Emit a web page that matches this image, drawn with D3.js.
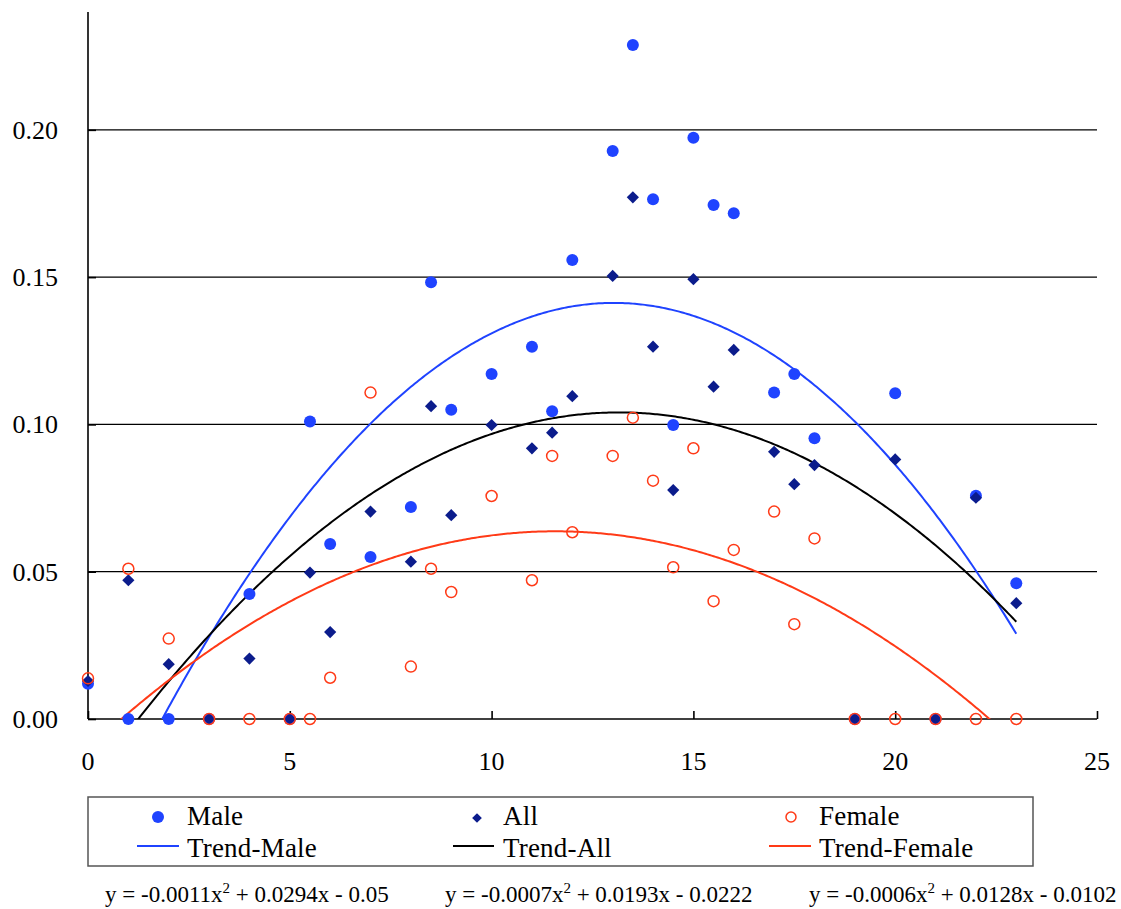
<!DOCTYPE html>
<html>
<head>
<meta charset="utf-8">
<script src="https://cdn.jsdelivr.net/npm/d3@7.9.0/dist/d3.min.js"></script>
<style>
  body { margin: 0; background: #fff; }
  svg text { font-family: "Liberation Serif", "Times New Roman", serif; fill: #000; }
</style>
</head>
<body>
<svg id="chart" width="1121" height="909"></svg>
<script>
// x positions shared by all three series
let xs = [0, 1, 2, 3, 4, 5, 5.5, 6, 7, 8, 8.5, 9, 10, 11, 11.5, 12, 13, 13.5, 14, 14.5, 15, 15.5, 16, 17, 17.5, 18, 19, 20, 21, 22, 23];

let male = [0.012, 0, 0, 0, 0.0424, 0, 0.101, 0.0594, 0.055, 0.072, 0.1483, 0.105, 0.1171, 0.1264, 0.1045, 0.1558, 0.1928, 0.2288, 0.1764, 0.0998, 0.1973, 0.1745, 0.1717, 0.1108, 0.1171, 0.0953, 0, 0.1106, 0, 0.0758, 0.0461];
let all = [0.0129, 0.0471, 0.0186, 0, 0.0205, 0, 0.0497, 0.0295, 0.0704, 0.0534, 0.1062, 0.0692, 0.0998, 0.0919, 0.0972, 0.1096, 0.1504, 0.1771, 0.1264, 0.0777, 0.1493, 0.1128, 0.1253, 0.0907, 0.0797, 0.0862, 0, 0.0881, 0, 0.0751, 0.0393];
let female = [0.0138, 0.051, 0.0273, 0, 0, 0, 0, 0.014, 0.1108, 0.0178, 0.051, 0.0431, 0.0757, 0.0471, 0.0893, 0.0634, 0.0893, 0.1023, 0.0809, 0.0515, 0.0919, 0.04, 0.0574, 0.0704, 0.0322, 0.0613, 0, 0, 0, 0, 0];

let xTicks = [0, 5, 10, 15, 20, 25];
let yTicks = [0, 0.05, 0.1, 0.15, 0.2];
let legendLabels = ['Male', 'All', 'Female'];
let trendLabels = ['Trend-Male', 'Trend-All', 'Trend-Female'];
let equations = [
    ['y = -0.0011x', ' + 0.0294x - 0.05'],
    ['y = -0.0007x', ' + 0.0193x - 0.0222'],
    ['y = -0.0006x', ' + 0.0128x - 0.0102']
];

let maleColor = '#1f43ff';
let allColor = '#0b1c8c';
let femaleColor = '#ff3a17';

let svg = d3.select('#chart');
let x = d3.scaleLinear().domain([0, 25]).range([88, 1097]);
let y = d3.scaleLinear().domain([0, 0.24]).range([719, 12]);

// gridlines
svg.append('g')
    .selectAll('line')
    .data(yTicks.slice(1))
    .join('line')
    .attr('x1', x(0)).attr('x2', x(25))
    .attr('y1', d => y(d)).attr('y2', d => y(d))
    .attr('stroke', '#000').attr('stroke-width', 1.2);

// axes
let yAxis = svg.append('g')
    .attr('transform', `translate(${x(0)},0)`)
    .call(d3.axisRight(y).tickValues(yTicks).tickSize(8).tickFormat(''));
yAxis.select('.domain').attr('d', `M0,${y(0.24)}V${y(0)}`).attr('stroke-width', 1.6);
yAxis.selectAll('.tick line').attr('stroke-width', 1.6);

let xAxis = svg.append('g')
    .attr('transform', `translate(0,${y(0)})`)
    .call(d3.axisTop(x).tickValues(xTicks).tickSize(8).tickFormat(''));
xAxis.select('.domain').attr('d', `M${x(0)},0H${x(25)}`).attr('stroke-width', 1.6);
xAxis.selectAll('.tick line').attr('stroke-width', 1.6);

svg.append('g')
    .selectAll('text')
    .data(yTicks)
    .join('text')
    .attr('x', 58)
    .attr('y', d => y(d) + 9)
    .attr('text-anchor', 'end')
    .attr('font-size', 26)
    .text(d => d3.format('.2f')(d));

svg.append('g')
    .selectAll('text')
    .data(xTicks)
    .join('text')
    .attr('x', d => x(d))
    .attr('y', 770)
    .attr('text-anchor', 'middle')
    .attr('font-size', 26)
    .text(d => d);

// least squares quadratic, like the spreadsheet trendline
function quadFit(xv, yv) {
    let s = [0, 0, 0, 0, 0], t = [0, 0, 0];
    xv.forEach((xi, i) => {
        for (let k = 0; k < 5; k++) s[k] += Math.pow(xi, k);
        for (let k = 0; k < 3; k++) t[k] += yv[i] * Math.pow(xi, k);
    });
    let m = [[s[0], s[1], s[2], t[0]], [s[1], s[2], s[3], t[1]], [s[2], s[3], s[4], t[2]]];
    for (let i = 0; i < 3; i++) {
        for (let j = i + 1; j < 3; j++) {
            let f = m[j][i] / m[i][i];
            for (let k = i; k < 4; k++) m[j][k] -= f * m[i][k];
        }
    }
    let c = [0, 0, 0];
    for (let i = 2; i >= 0; i--) {
        let v = m[i][3];
        for (let k = i + 1; k < 3; k++) v -= m[i][k] * c[k];
        c[i] = v / m[i][i];
    }
    return c;
}

svg.append('clipPath').attr('id', 'plotClip')
    .append('rect')
    .attr('x', x(0)).attr('y', y(0.24))
    .attr('width', x(25) - x(0)).attr('height', y(0) - y(0.24));

let line = d3.line().x(d => x(d[0])).y(d => y(d[1]));
let trendGroup = svg.append('g').attr('clip-path', 'url(#plotClip)');
[[male, maleColor], [all, '#000'], [female, femaleColor]].forEach(([vals, color]) => {
    let c = quadFit(xs, vals);
    let pts = d3.range(0, 23.001, 0.05).map(v => [v, c[0] + c[1] * v + c[2] * v * v]);
    trendGroup.append('path')
        .attr('d', line(pts))
        .attr('fill', 'none')
        .attr('stroke', color)
        .attr('stroke-width', 2);
});

// markers
svg.append('g')
    .selectAll('circle')
    .data(xs.map((v, i) => [v, male[i]]))
    .join('circle')
    .attr('cx', d => x(d[0])).attr('cy', d => y(d[1]))
    .attr('r', 6)
    .attr('fill', maleColor);

let diamond = d3.symbol().type(d3.symbolDiamond2).size(95);
svg.append('g')
    .selectAll('path')
    .data(xs.map((v, i) => [v, all[i]]))
    .join('path')
    .attr('transform', d => `translate(${x(d[0])},${y(d[1])})`)
    .attr('d', diamond())
    .attr('fill', allColor);

svg.append('g')
    .selectAll('circle')
    .data(xs.map((v, i) => [v, female[i]]))
    .join('circle')
    .attr('cx', d => x(d[0])).attr('cy', d => y(d[1]))
    .attr('r', 5.5)
    .attr('fill', 'none')
    .attr('stroke', femaleColor)
    .attr('stroke-width', 1.5);

// legend
let legend = svg.append('g');
legend.append('rect')
    .attr('x', 88).attr('y', 797)
    .attr('width', 945).attr('height', 69)
    .attr('fill', '#fff').attr('stroke', '#555').attr('stroke-width', 1.5);

let markerX = [158, 477, 791];
let textX = [187, 503, 819];
let lineX = [[137, 179], [453, 494], [769, 811]];
let trendColors = [maleColor, '#000', femaleColor];

legend.append('circle').attr('cx', markerX[0]).attr('cy', 817).attr('r', 6).attr('fill', maleColor);
legend.append('path').attr('transform', `translate(${markerX[1]},818)`).attr('d', d3.symbol().type(d3.symbolDiamond2).size(60)()).attr('fill', allColor);
legend.append('circle').attr('cx', markerX[2]).attr('cy', 817).attr('r', 5).attr('fill', 'none').attr('stroke', femaleColor).attr('stroke-width', 1.5);

legendLabels.forEach((d, i) => {
    legend.append('text').attr('x', textX[i]).attr('y', 825).attr('font-size', 27).attr('letter-spacing', 0.2).text(d);
    legend.append('line')
        .attr('x1', lineX[i][0]).attr('x2', lineX[i][1])
        .attr('y1', 846).attr('y2', 846)
        .attr('stroke', trendColors[i]).attr('stroke-width', 2);
    legend.append('text').attr('x', textX[i]).attr('y', 857).attr('font-size', 27).attr('letter-spacing', 0.2).text(trendLabels[i]);
});

// equations
let eqX = [105, 445, 809];
equations.forEach((eq, i) => {
    let t = svg.append('text').attr('x', eqX[i]).attr('y', 902).attr('font-size', 23);
    t.append('tspan').text(eq[0]);
    t.append('tspan').attr('dy', -9).attr('font-size', 15).text('2');
    t.append('tspan').attr('dy', 9).text(eq[1]);
});
</script>
</body>
</html>
